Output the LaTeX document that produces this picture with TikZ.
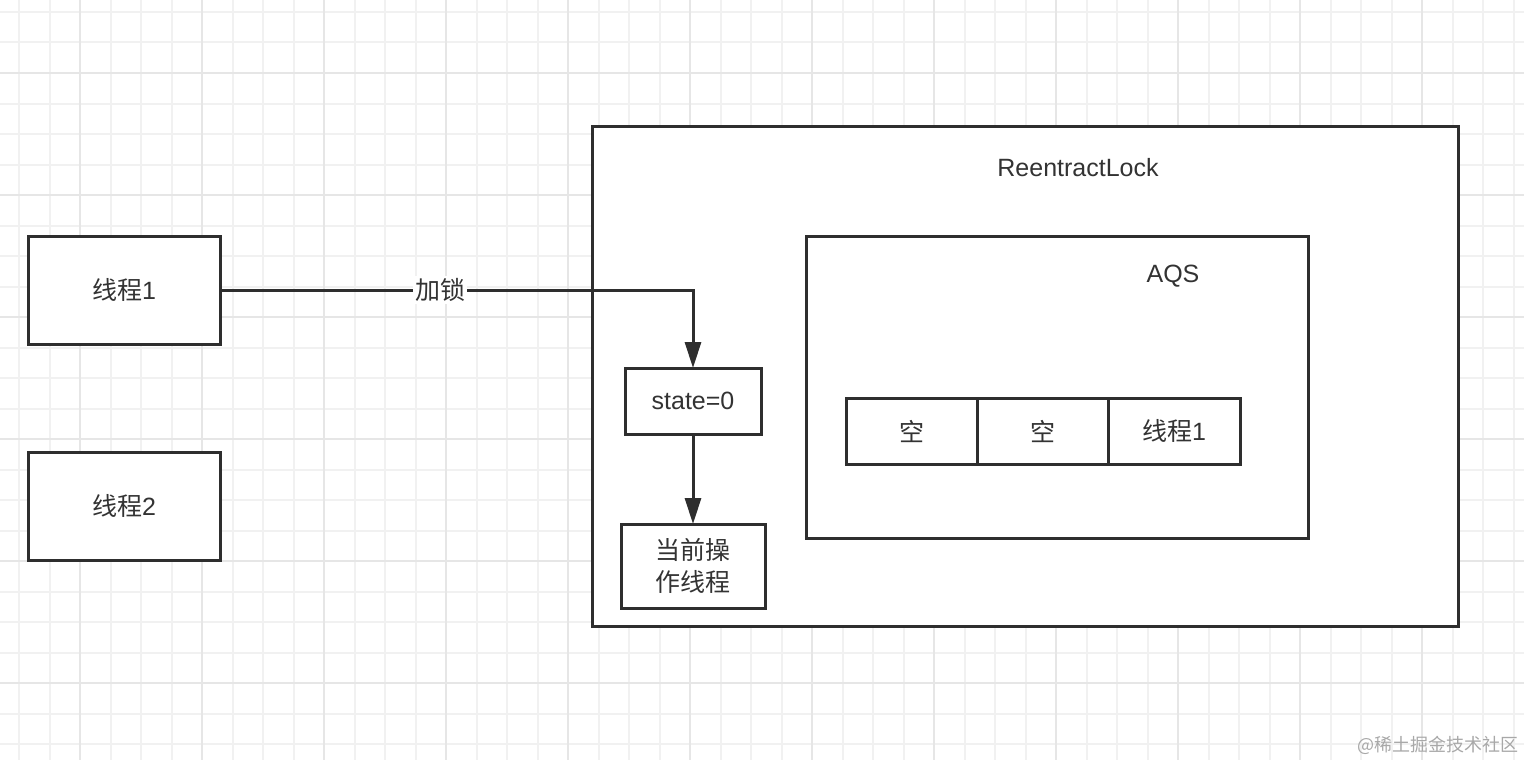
\documentclass[tikz,border=0pt]{standalone}
\usepackage{fontspec}
\setmainfont{Liberation Sans}
\newfontfamily\cjk{Noto Sans CJK SC}
\usetikzlibrary{arrows.meta}
\definecolor{ln}{HTML}{2E2E2E}
\definecolor{tx}{HTML}{333333}
\definecolor{minorg}{HTML}{F1F1F1}
\definecolor{majorg}{HTML}{E6E6E6}
\definecolor{wm}{HTML}{A8A8A8}
\begin{document}
\begin{tikzpicture}[x=1pt,y=-1pt,
  box/.style={draw=ln, line width=3pt, fill=white, inner sep=0pt, outer sep=0pt,
    text=tx, align=center, font=\fontsize{25}{32}\selectfont},
  txt/.style={inner sep=0pt, text=tx, font=\fontsize{25}{30}\selectfont},
  conn/.style={draw=ln, line width=3pt, -{Triangle[length=26pt,width=16pt]}},
  lbl/.style={fill=white, inner sep=2pt, text=tx, font=\fontsize{25}{30}\selectfont},
  minorline/.style={draw=minorg, line width=2pt},
  majorline/.style={draw=majorg, line width=2.5pt}
]
\useasboundingbox (0,0) rectangle (1524,760);
\fill[white] (0,0) rectangle (1524,760);
% grid
\foreach \i in {0,...,49} {
  \pgfmathsetmacro\gx{19+30.5*\i}
  \draw[minorline] (\gx,0) -- (\gx,760);
}
\foreach \i in {0,...,24} {
  \pgfmathsetmacro\gy{12+30.5*\i}
  \draw[minorline] (0,\gy) -- (1524,\gy);
}
\foreach \i in {0,...,11} {
  \pgfmathsetmacro\gx{80+122*\i}
  \draw[majorline] (\gx,0) -- (\gx,760);
}
\foreach \i in {0,...,5} {
  \pgfmathsetmacro\gy{73+122*\i}
  \draw[majorline] (0,\gy) -- (1524,\gy);
}
% boxes
\node[box, minimum width=866pt, minimum height=500pt] (lock) at (1025,376) {};
\node[txt] (locklbl) at (1078,168) {ReentractLock};
\node[box, minimum width=502pt, minimum height=302pt] (aqs) at (1057,387) {};
\node[txt] (aqslbl) at (1173,276) {AQS};
\node[box, minimum width=131pt, minimum height=66pt] (c1) at (911.5,431) {\cjk 空};
\node[box, minimum width=131pt, minimum height=66pt] (c2) at (1042.5,431) {\cjk 空};
\node[box, minimum width=132pt, minimum height=66pt] (c3) at (1174,431) {{\cjk 线程}1};
\node[box, minimum width=192pt, minimum height=108pt] (t1) at (124,290) {{\cjk 线程}1};
\node[box, minimum width=192pt, minimum height=108pt] (t2) at (124,506) {{\cjk 线程}2};
\node[box, minimum width=136pt, minimum height=66pt] (state) at (693,401) {state=0};
\node[box, minimum width=144pt, minimum height=84pt] (cur) at (693,566) {\cjk 当前操\\\cjk 作线程};
% connectors
\coordinate (bend) at (state.north |- t1.east);
\draw[conn] (t1.east) -- node[lbl, pos=0.466] (lock lbl) {\cjk 加锁} (bend) -- (state.north);
\draw[conn] (state.south) -- (cur.north);
% watermark
\node[inner sep=0pt, text=wm, font=\cjk\fontsize{18}{20}\selectfont] (wmark) at (1438,745) {@稀土掘金技术社区};
\end{tikzpicture}
\end{document}
